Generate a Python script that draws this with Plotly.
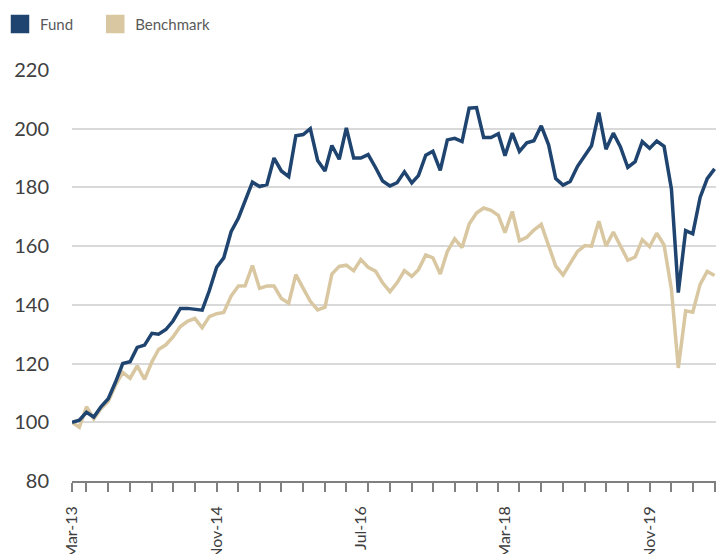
import pandas as pd
import plotly.graph_objects as go

# Monthly index levels, rebased to 100 at the start
months = pd.date_range("2013-03-01", periods=90, freq="MS")

fund = [
    100.0, 100.7, 103.4, 101.8, 105.3, 108.0, 113.8, 120.0, 120.6, 125.5,
    126.3, 130.3, 130.0, 131.6, 134.5, 138.8, 138.8, 138.6, 138.2, 144.8,
    152.8, 156.0, 164.9, 169.6, 175.5, 181.8, 180.3, 181.0, 190.0, 185.6,
    183.7, 197.6, 198.0, 200.0, 189.2, 185.6, 194.3, 189.6, 200.3, 190.0,
    190.0, 191.2, 186.8, 182.2, 180.5, 181.6, 185.3, 181.5, 184.0, 191.0,
    192.3, 185.8, 196.2, 196.7, 195.6, 207.0, 207.2, 197.0, 197.0, 198.3,
    190.8, 198.5, 192.3, 195.2, 195.9, 201.0, 194.5, 183.0, 180.8, 182.0,
    187.2, 191.0, 194.2, 205.5, 193.0, 198.5, 193.8, 186.8, 188.8, 195.6,
    193.3, 195.8, 194.0, 179.5, 144.2, 165.3, 164.2, 176.6, 183.0, 186.3,
]

benchmark = [
    100.0, 98.3, 105.3, 101.2, 104.6, 107.2, 112.7, 117.0, 115.0, 119.2,
    114.6, 120.6, 124.8, 126.4, 129.1, 132.6, 134.4, 135.4, 132.2, 136.0,
    137.0, 137.4, 143.0, 146.4, 146.5, 153.4, 145.6, 146.4, 146.4, 142.2,
    140.6, 150.3, 145.6, 141.2, 138.3, 139.2, 150.5, 153.1, 153.5, 151.6,
    155.4, 152.8, 151.5, 147.5, 144.5, 147.5, 151.7, 149.7, 152.0, 157.0,
    156.0, 150.5, 158.2, 162.5, 159.5, 167.5, 171.3, 173.0, 172.2, 170.5,
    164.6, 171.8, 161.8, 163.0, 165.5, 167.4, 160.2, 153.2, 150.2, 154.2,
    158.2, 160.2, 160.0, 168.5, 160.0, 164.8, 159.8, 155.2, 156.3, 162.2,
    159.8, 164.4, 160.4, 145.3, 118.5, 138.0, 137.5, 147.0, 151.4, 150.0,
]

# Labelled dates every 20 months, tick marks every quarter
label_dates = months[::20]
tick_dates = [months[0]] + list(months[2::3])
y_ticks = [80, 100, 120, 140, 160, 180, 200, 220]

FUND_COLOR = "#1E446F"
BENCH_COLOR = "#D8C7A0"

fig = go.Figure()

fig.add_trace(go.Scatter(
    x=months, y=benchmark, mode="lines", name="Benchmark",
    line=dict(color=BENCH_COLOR, width=3.5), showlegend=False,
))
fig.add_trace(go.Scatter(
    x=months, y=fund, mode="lines", name="Fund",
    line=dict(color=FUND_COLOR, width=3.5), showlegend=False,
))

# Square legend swatches, one legend box per series
for name, color, leg in [("Fund", FUND_COLOR, "legend"),
                         ("Benchmark", BENCH_COLOR, "legend2")]:
    fig.add_trace(go.Scatter(
        x=[None], y=[None], mode="markers", name=name, legend=leg,
        marker=dict(symbol="square", size=16, color=color,
                    line=dict(color=color, width=2.5)),
    ))

legend_style = dict(
    orientation="h", xref="container", yref="container",
    y=0.986, xanchor="left", yanchor="top",
    font=dict(family="Lato", size=15, color="#595959"),
    bgcolor="rgba(0,0,0,0)",
)

fig.update_layout(
    width=716, height=554,
    margin=dict(l=72, r=0, t=70, b=73),
    paper_bgcolor="white", plot_bgcolor="white",
    font=dict(family="Lato", color="#404040"),
    legend=dict(x=-0.004, **legend_style),
    legend2=dict(x=0.133, **legend_style),
    xaxis=dict(
        type="date", automargin=False,
        range=[months[0], pd.Timestamp("2020-08-07")],
        tickvals=label_dates, tickformat="%b-%y", tickangle=-90,
        ticks="", ticklabelstandoff=17,
        tickfont=dict(family="Lato", size=16, color="#404040"),
        showgrid=False, zeroline=False,
        showline=True, linecolor="#808080", linewidth=1.5,
        minor=dict(tickvals=tick_dates, ticks="outside", ticklen=9,
                   tickcolor="#808080", tickwidth=1.5, showgrid=False),
    ),
    yaxis=dict(
        range=[80, 220], tickvals=y_ticks, automargin=False,
        tickfont=dict(family="Lato", size=20, color="#404040"),
        ticks="", ticklabelstandoff=22,
        showgrid=True, gridcolor="#D9D9D9", gridwidth=1.5,
        zeroline=False, showline=False,
    ),
)

fig.write_html("out.html")
